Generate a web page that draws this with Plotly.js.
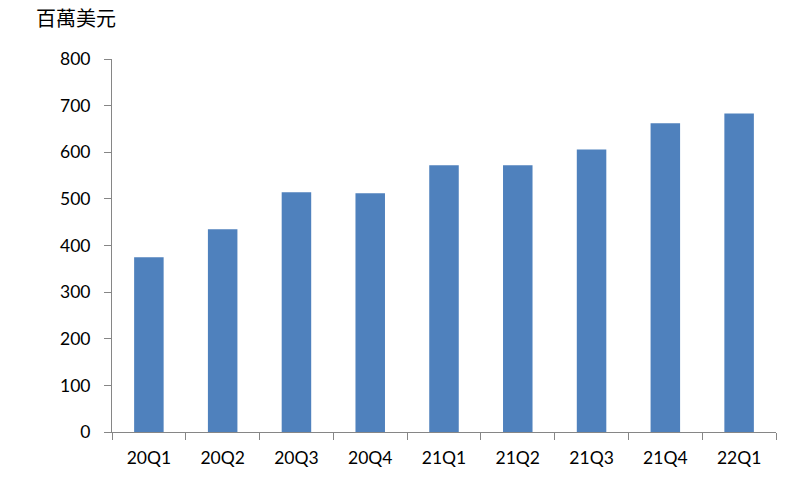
<!DOCTYPE html>
<html>
<head>
<meta charset="utf-8">
<script src="https://cdn.plot.ly/plotly-3.0.1.min.js"></script>
<style>html,body{margin:0;padding:0;background:#fff;}#chart{width:798px;height:485px;}</style>
</head>
<body>
<div id="chart"></div>
<script>
const categories = ["20Q1","20Q2","20Q3","20Q4","21Q1","21Q2","21Q3","21Q4","22Q1"];
const values = [375, 435, 514, 512, 572, 572, 606, 662, 683];
const yTicks = [0,100,200,300,400,500,600,700,800];
const unitLabel = "百萬美元";

const axisColor = "#868686";
const font = "Lato, 'Noto Sans CJK TC', sans-serif";

Plotly.newPlot("chart", [{
  type: "bar",
  x: categories,
  y: values,
  marker: {color: "#4F81BD"},
  hoverinfo: "x+y"
}], {
  width: 798, height: 485,
  margin: {l: 112, r: 22, t: 59, b: 53},
  paper_bgcolor: "#fff", plot_bgcolor: "#fff",
  bargap: 0.6,
  showlegend: false,
  font: {family: font, size: 17.5, color: "#000"},
  title: {
    text: unitLabel,
    font: {family: "'Noto Sans CJK TC', sans-serif", size: 20, color: "#000"},
    x: 36/798, xanchor: "left", xref: "container",
    y: 1 - 19/485, yanchor: "middle", yref: "container"
  },
  xaxis: {
    type: "category",
    showgrid: false, zeroline: false,
    showline: true, linecolor: axisColor, linewidth: 1,
    ticks: "outside", ticklen: 7, tickcolor: axisColor,
    tickson: "boundaries",
    tickfont: {family: font, size: 17.5, color: "#000"},
    ticklabelstandoff: 10
  },
  yaxis: {
    range: [0, 800],
    tickvals: yTicks,
    showgrid: false, zeroline: false,
    showline: true, linecolor: axisColor, linewidth: 1,
    ticks: "outside", ticklen: 7, tickcolor: axisColor,
    tickfont: {family: font, size: 17.5, color: "#000"},
    ticklabelstandoff: 10
  }
}, {displayModeBar: false, staticPlot: true});
</script>
</body>
</html>
